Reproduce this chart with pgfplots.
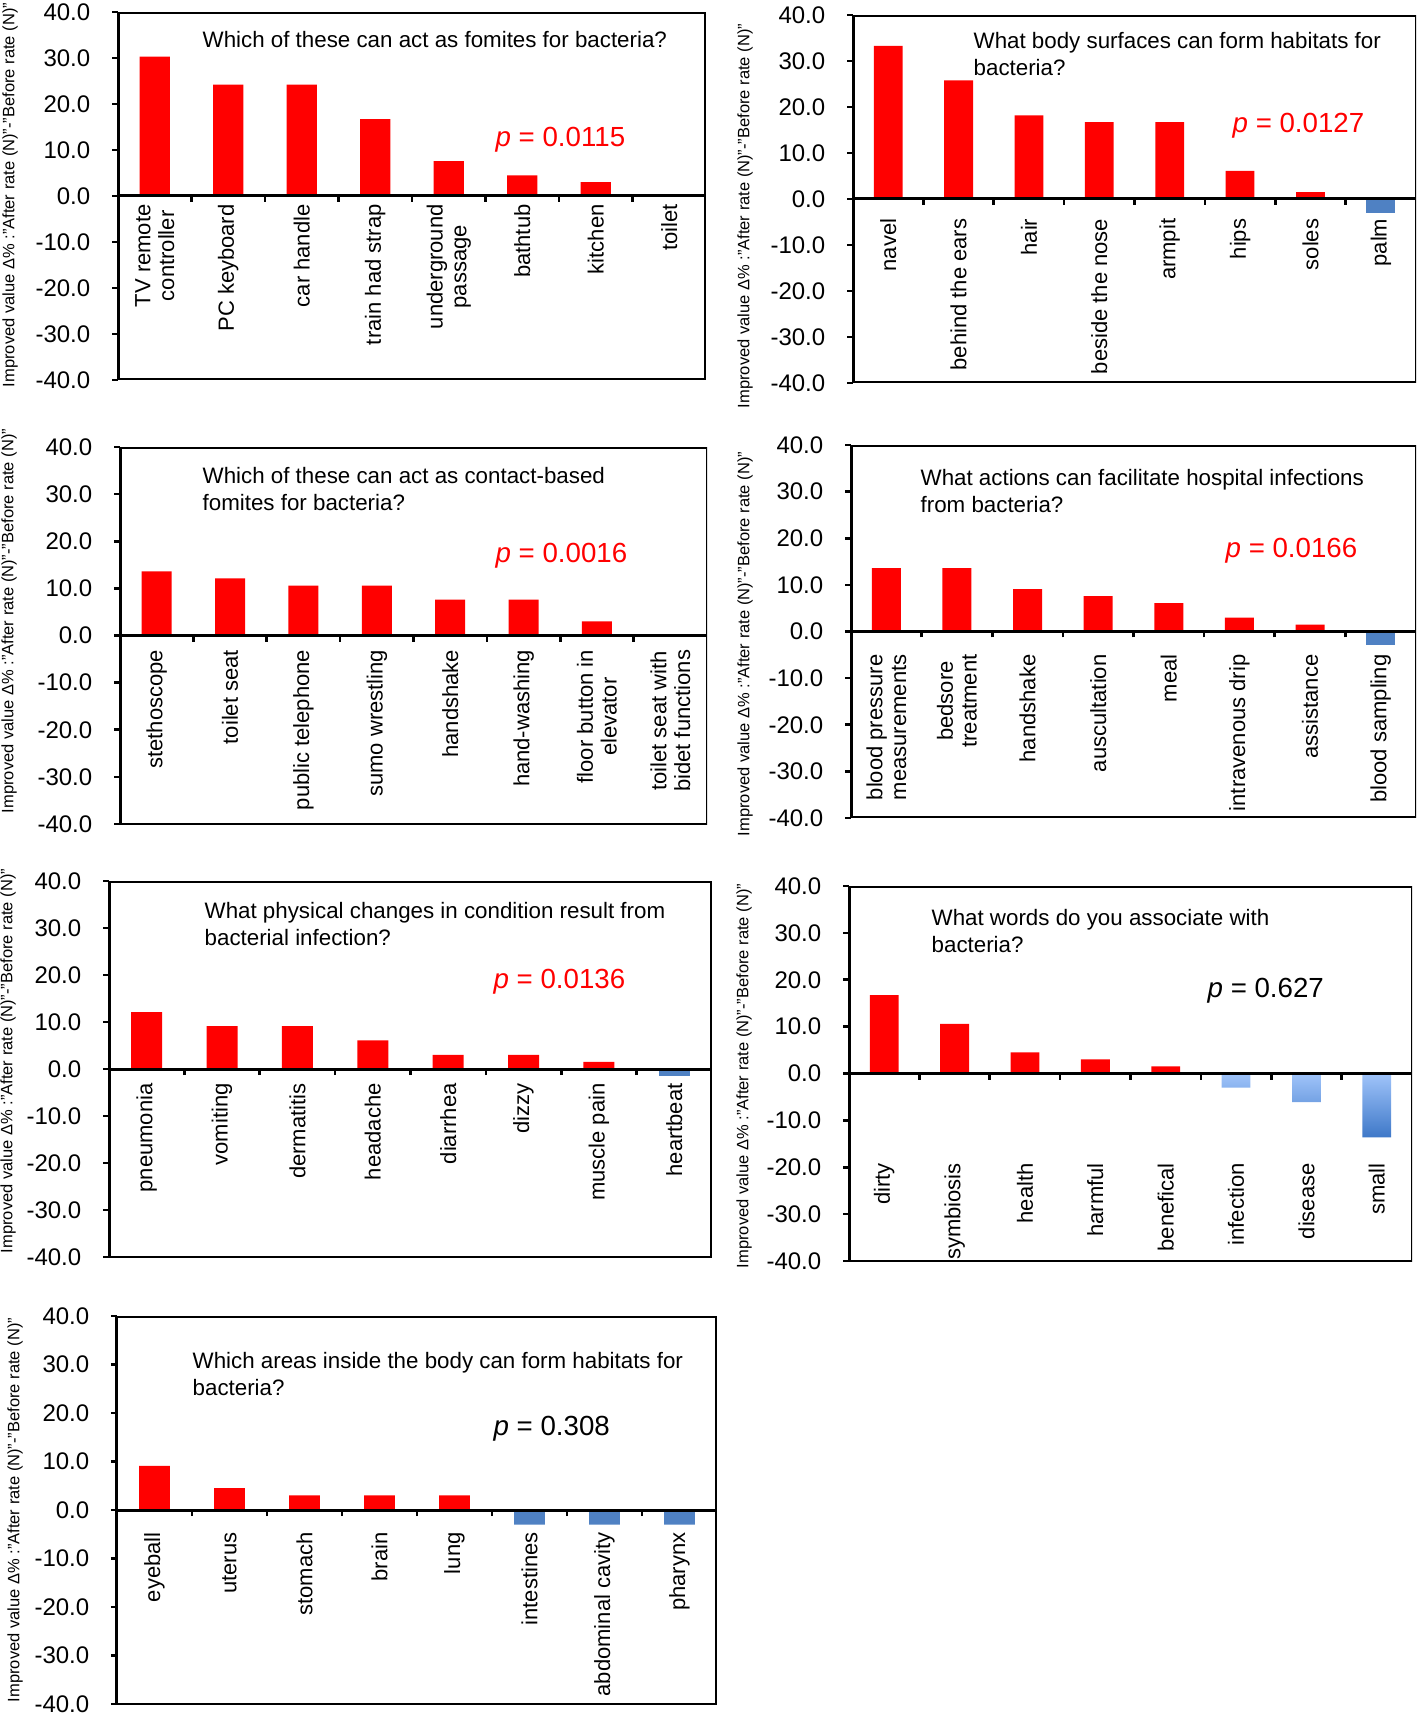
\documentclass[border=0pt]{standalone}
\usepackage{fontspec}
\setmainfont{Liberation Sans}
\usepackage{pgfplots}
\pgfplotsset{compat=1.18}

\definecolor{barred}{RGB}{255,0,0}
\definecolor{barblue}{RGB}{79,129,195}
\definecolor{blueL}{RGB}{160,196,250}
\definecolor{blueD}{RGB}{62,120,200}

% 1 px of the reference = 0.3pt
\pgfplotsset{
  panel/.style={
    scale only axis, anchor=north west, axis on top,
    xmin=0.5, xmax=8.5, ymin=-40, ymax=40,
    axis x line=middle, axis y line=left,
    axis line style={-, line width=0.9pt},
    hide obscured x ticks=false, hide obscured y ticks=false,
    tick align=outside, major tick length=1.8pt,
    tick style={black, line width=0.8pt},
    ytick={-40,-30,...,40}, scaled y ticks=false,
    yticklabel style={font=\fontsize{7.2}{8}\selectfont, xshift=-3pt,
      /pgf/number format/fixed, /pgf/number format/fixed zerofill,
      /pgf/number format/precision=1, /pgf/number format/assume math mode=true},
    xtick={1.5,2.5,...,7.5}, xticklabels={},
    extra x ticks={1,2,...,8},
    extra x tick style={major tick length=0pt},
    xticklabel style={font=\fontsize{6.6}{7.1}\selectfont, rotate=90, anchor=east, align=center},
  },
  pos/.style={ybar, bar width=0.41, bar shift=0pt, fill=barred, draw=none},
  neg/.style={ybar, bar width=0.41, bar shift=0pt, fill=barblue, draw=none},
}
\newcommand\boxit{\draw[line width=0.9pt] (rel axis cs:0,0) rectangle (rel axis cs:1,1);}
\newcommand\ylab[2]{\node[rotate=90, font=\fontsize{4.95}{6}\selectfont] at (#1*0.3pt,-#2*0.3pt) {Improved value Δ\% :"After rate (N)"-"Before rate (N)"};}
\newcommand\ttl[3]{\node[anchor=base west, inner sep=0pt, font=\fontsize{6.7}{8}\selectfont] at (#1*0.3pt,-#2*0.3pt) {#3};}
\newcommand\pval[4]{\node[anchor=base west, inner sep=0pt, text=#3, font=\fontsize{8.3}{9}\selectfont] at (#1*0.3pt,-#2*0.3pt) {\textit{p} = #4};}

\begin{document}
\begin{tikzpicture}
\useasboundingbox (0,0) rectangle (425.1pt,-514.5pt);

% panel 1
\begin{axis}[panel, at={(118*0.3pt,-12*0.3pt)}, width=176.4pt, height=110.4pt, xticklabel shift=-1pt,
  extra x tick labels={{TV remote\\controller},PC keyboard,car handle,train had strap,{underground\\passage},bathtub,kitchen,toilet}]
\addplot[pos] coordinates {(1,30.3) (2,24.2) (3,24.2) (4,16.7) (5,7.6) (6,4.5) (7,3.0)};
\boxit
\end{axis}

% panel 2
\begin{axis}[panel, at={(853*0.3pt,-15*0.3pt)}, width=168.9pt, height=110.4pt, xticklabel shift=2.4pt,
  extra x tick labels={navel,behind the ears,hair,beside the nose,armpit,hips,soles,palm}]
\addplot[pos] coordinates {(1,33.3) (2,25.8) (3,18.2) (4,16.7) (5,16.7) (6,6.1) (7,1.5)};
\addplot[neg] coordinates {(8,-3.0)};
\boxit
\end{axis}

% panel 3
\begin{axis}[panel, at={(120*0.3pt,-447*0.3pt)}, width=176.1pt, height=113.1pt, xticklabel shift=0.8pt,
  extra x tick labels={stethoscope,toilet seat,public telephone,sumo wrestling,handshake,hand-washing,{floor button in\\elevator},{toilet seat with\\bidet functions}}]
\addplot[pos] coordinates {(1,13.6) (2,12.1) (3,10.6) (4,10.6) (5,7.6) (6,7.6) (7,3.0)};
\boxit
\end{axis}

% panel 4
\begin{axis}[panel, at={(851*0.3pt,-445*0.3pt)}, width=169.5pt, height=111.9pt, xticklabel shift=3.4pt,
  extra x tick labels={{blood pressure\\measurements},{bedsore\\treatment},handshake,auscultation,meal,intravenous drip,assistance,blood sampling}]
\addplot[pos] coordinates {(1,13.6) (2,13.6) (3,9.1) (4,7.6) (5,6.1) (6,3.0) (7,1.5)};
\addplot[neg] coordinates {(8,-3.0)};
\boxit
\end{axis}

% panel 5
\begin{axis}[panel, at={(109*0.3pt,-881*0.3pt)}, width=180.9pt, height=112.8pt, xticklabel shift=0.8pt,
  extra x tick labels={pneumonia,vomiting,dermatitis,headache,diarrhea,dizzy,muscle pain,heartbeat}]
\addplot[pos] coordinates {(1,12.1) (2,9.1) (3,9.1) (4,6.1) (5,3.0) (6,3.0) (7,1.5)};
\addplot[neg] coordinates {(8,-1.5)};
\boxit
\end{axis}

% panel 6
\begin{axis}[panel, at={(849*0.3pt,-886*0.3pt)}, width=168.9pt, height=112.5pt, xticklabel shift=23.4pt,
  extra x tick labels={dirty,symbiosis,health,harmful,benefical,infection,disease,small}]
\addplot[pos] coordinates {(1,16.7) (2,10.6) (3,4.5) (4,3.0) (5,1.5)};
\addplot[ybar, bar width=0.41, bar shift=0pt, draw=none, top color=blueL, bottom color=blueD] coordinates {(6,-3.0) (7,-6.1) (8,-13.6)};
\boxit
\end{axis}

% panel 7
\begin{axis}[panel, at={(117*0.3pt,-1316*0.3pt)}, width=180pt, height=116.4pt, xticklabel shift=3.2pt,
  extra x tick labels={eyeball,uterus,stomach,brain,lung,intestines,abdominal cavity,pharynx}]
\addplot[pos] coordinates {(1,9.1) (2,4.5) (3,3.0) (4,3.0) (5,3.0)};
\addplot[neg] coordinates {(6,-3.0) (7,-3.0) (8,-3.0)};
\boxit
\end{axis}

% y labels
\ylab{10}{195}
\ylab{745}{216}
\ylab{9}{621}
\ylab{745}{644}
\ylab{8}{1061}
\ylab{744}{1076}
\ylab{15}{1510}

% titles
\ttl{202}{47}{Which of these can act as fomites for bacteria?}
\ttl{973}{48}{What body surfaces can form habitats for}
\ttl{973}{75}{bacteria?}
\ttl{202}{483}{Which of these can act as contact-based}
\ttl{202}{510}{fomites for bacteria?}
\ttl{920}{485}{What actions can facilitate hospital infections}
\ttl{920}{512}{from bacteria?}
\ttl{204}{918}{What physical changes in condition result from}
\ttl{204}{945}{bacterial infection?}
\ttl{931}{925}{What words do you associate with}
\ttl{931}{952}{bacteria?}
\ttl{192}{1368}{Which areas inside the body can form habitats for}
\ttl{192}{1395}{bacteria?}

% p values
\pval{495}{146}{red}{0.0115}
\pval{1232}{132}{red}{0.0127}
\pval{495}{562}{red}{0.0016}
\pval{1225}{557}{red}{0.0166}
\pval{493}{988}{red}{0.0136}
\pval{1207}{997}{black}{0.627}
\pval{493}{1435}{black}{0.308}
\end{tikzpicture}
\end{document}
